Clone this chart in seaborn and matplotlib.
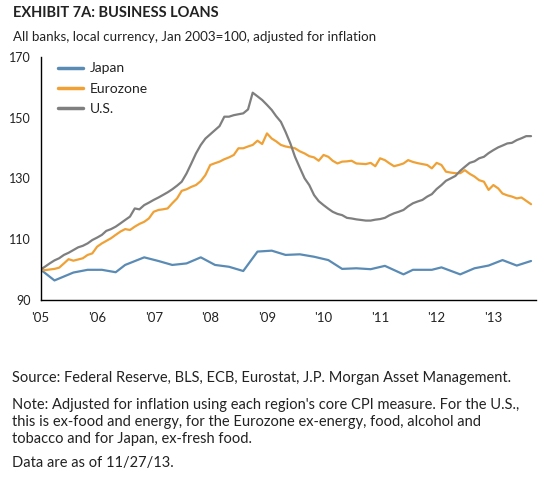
import numpy as np
import pandas as pd
import matplotlib
matplotlib.use("Agg")
import matplotlib.pyplot as plt
import seaborn as sns

# monthly series, Jan 2005 .. Sep 2013
us_vals = [
    100.0, 101.0, 102.0, 103.0, 103.7, 104.8, 105.5, 106.4, 107.3, 107.8, 108.6, 109.7,
    110.5, 111.4, 112.7, 113.3, 114.1, 115.2, 116.3, 117.4, 120.1, 119.8, 121.2, 122.0,
    122.9, 123.7, 124.5, 125.4, 126.4, 127.6, 128.9, 131.6, 134.9, 138.2, 141.0, 143.1,
    144.5, 145.9, 147.2, 150.3, 150.3, 150.8, 151.1, 151.4, 152.7, 158.2, 157.0, 155.8,
    154.2, 152.5, 150.5, 148.6, 145.3, 141.5, 137.1, 133.5, 130.0, 127.8, 124.5, 122.5,
    121.2, 120.0, 119.0, 118.3, 117.9, 117.0, 116.8, 116.5, 116.3, 116.1, 116.1, 116.4,
    116.6, 117.0, 117.8, 118.5, 119.0, 119.6, 120.8, 121.8, 122.4, 122.9, 124.0, 124.8,
    126.5, 127.8, 129.2, 130.0, 130.8, 132.5, 133.8, 135.1, 135.6, 136.6, 137.1, 138.3,
    139.3, 140.2, 140.8, 141.5, 141.7, 142.6, 143.2, 143.9, 143.9,
]
euro_vals = [
    100.0, 99.8, 100.0, 100.2, 100.6, 102.0, 103.4, 102.9, 103.3, 103.7, 104.8, 105.3,
    107.5, 108.6, 109.4, 110.3, 111.4, 112.5, 113.3, 113.0, 114.1, 115.0, 115.7, 116.8,
    119.0, 119.6, 119.8, 120.1, 121.8, 123.4, 125.9, 126.4, 127.2, 127.8, 129.1, 131.1,
    134.4, 135.0, 135.5, 136.3, 136.9, 137.7, 139.9, 139.9, 140.5, 141.0, 142.4, 141.3,
    144.8, 143.1, 142.2, 141.0, 140.5, 140.2, 139.9, 138.9, 138.2, 137.3, 136.9, 135.8,
    137.7, 137.1, 135.8, 134.9, 135.5, 135.6, 135.8, 134.9, 134.8, 134.7, 135.1, 134.0,
    136.6, 136.0, 135.0, 134.0, 134.4, 134.9, 136.0, 135.4, 135.0, 134.7, 134.4, 133.3,
    135.1, 134.4, 132.2, 131.9, 131.7, 131.7, 132.7, 131.5, 130.6, 129.4, 128.9, 126.2,
    127.8, 126.7, 125.0, 124.4, 124.0, 123.4, 123.7, 122.6, 121.5,
]
monthly_dates = pd.date_range("2005-01-01", periods=len(us_vals), freq="MS")

# Japan is roughly quarterly
japan_dates = [
    "2005-01", "2005-04", "2005-08", "2005-11", "2006-02", "2006-05", "2006-07", "2006-11",
    "2007-02", "2007-05", "2007-08", "2007-11", "2008-02", "2008-05", "2008-08", "2008-11",
    "2009-02", "2009-05", "2009-08", "2009-11", "2010-02", "2010-05", "2010-08", "2010-11",
    "2011-02", "2011-06", "2011-08", "2011-12", "2012-02", "2012-06", "2012-09", "2012-12",
    "2013-03", "2013-06", "2013-09",
]
japan_vals = [
    100.0, 96.4, 99.0, 99.9, 99.9, 99.1, 101.5, 104.0,
    102.8, 101.5, 102.0, 104.0, 101.5, 100.9, 99.5, 105.9,
    106.2, 104.8, 105.0, 104.2, 103.1, 100.2, 100.4, 100.1,
    101.2, 98.4, 99.9, 99.9, 100.7, 98.4, 100.4, 101.3,
    103.1, 101.3, 102.8,
]

series = ["Japan", "Eurozone", "U.S."]
colors = ["#5a8bb5", "#efa136", "#7f7f7f"]
year_ticks = [str(y) for y in range(2005, 2014)]
tick_labels = ["'05", "'06", "'07", "'08", "'09", "'10", "'11", "'12", "'13"]
y_ticks = [90, 110, 130, 150, 170]

df = pd.concat([
    pd.DataFrame({"date": pd.to_datetime(japan_dates), "value": japan_vals, "series": "Japan"}),
    pd.DataFrame({"date": monthly_dates, "value": euro_vals, "series": "Eurozone"}),
    pd.DataFrame({"date": monthly_dates, "value": us_vals, "series": "U.S."}),
])

sns.set_style("white")
plt.rcParams['font.family'] = ['Lato', 'DejaVu Sans']
text_c = "#222222"

fig = plt.figure(figsize=(5.44, 4.9), dpi=100)
ax = fig.add_axes([0.0745, 0.388, 0.9105, 0.496])

sns.lineplot(data=df, x="date", y="value", hue="series", hue_order=series,
             palette=colors, linewidth=1.6, ax=ax)

ax.set_ylim(90, 170)
ax.set_xlim(pd.Timestamp("2005-01-01"), pd.Timestamp("2013-10-02"))
ax.set_yticks(y_ticks)
ax.set_xticks(pd.to_datetime(year_ticks))
ax.set_xticklabels(tick_labels)
ax.set_xlabel("")
ax.set_ylabel("")
for s in ["top", "right"]:
    ax.spines[s].set_visible(False)
for s in ["left", "bottom"]:
    ax.spines[s].set_color("black")
    ax.spines[s].set_linewidth(1.0)
ax.tick_params(axis="both", direction="out", length=4, width=1, color="black",
               labelsize=9, labelcolor=text_c, pad=3)
ax.tick_params(axis="x", pad=5, labelsize=9.5)

leg = ax.legend(loc="upper left", bbox_to_anchor=(0.024, 1.0), borderaxespad=0,
                frameon=False, fontsize=10, handlelength=1.8, handletextpad=0.5,
                labelspacing=0.6)
for t in leg.get_texts():
    t.set_color(text_c)
for h in leg.get_lines():
    h.set_linewidth(2.5)

fig.text(0.024, 0.988, "EXHIBIT 7A: BUSINESS LOANS", fontsize=10.5, fontweight="bold",
         color=text_c, va="top")
fig.text(0.024, 0.937, "All banks, local currency, Jan 2003=100, adjusted for inflation",
         fontsize=9.6, color=text_c, va="top")

notes = [
    (0.243, "Source: Federal Reserve, BLS, ECB, Eurostat, J.P. Morgan Asset Management."),
    (0.187, "Note: Adjusted for inflation using each region's core CPI measure. For the U.S.,\n"
            "this is ex-food and energy, for the Eurozone ex-energy, food, alcohol and\n"
            "tobacco and for Japan, ex-fresh food."),
    (0.069, "Data are as of 11/27/13."),
]
for ypos, txt in notes:
    fig.text(0.022, ypos, txt, fontsize=10.5, color=text_c, va="top", linespacing=1.25)

fig.savefig("out.png", dpi=100)
